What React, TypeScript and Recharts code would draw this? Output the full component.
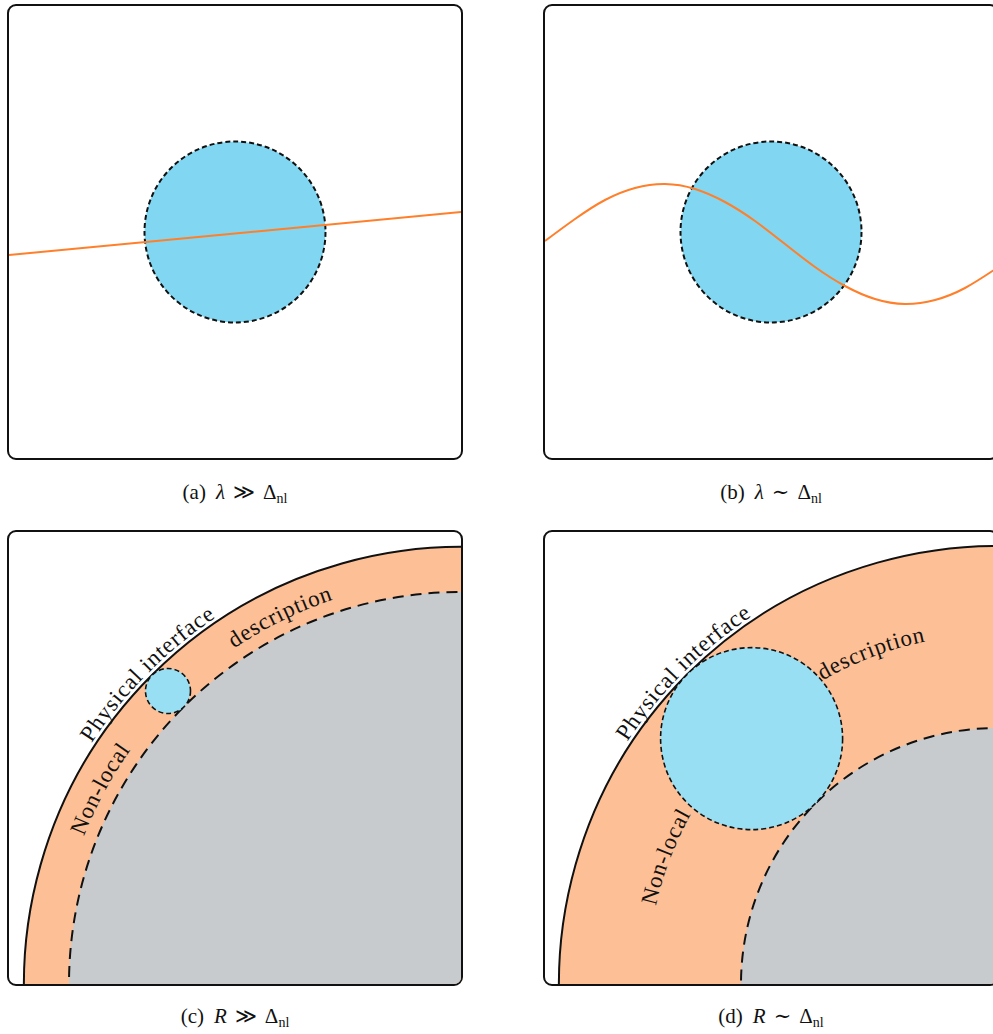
import React from 'react';
import {
  ComposedChart,
  Line,
  XAxis,
  YAxis,
  ReferenceDot,
  PieChart,
  Pie,
} from 'recharts';

// inner size of every panel, in panel units (1 unit = 1 px)
const SIZE = 452;

// (a) wavelength much longer than the non-local range: almost straight field line
const slowWaveX = [0, 452];
const slowWaveY = [249, 206];

// (b) wavelength comparable to the non-local range
const fastWaveX = [0, 30, 60, 90, 120, 150, 180, 210, 240, 270, 300, 330, 360, 390, 420, 452];
const fastWaveY = [235, 213, 194, 182, 178, 183, 196, 215, 238, 261, 280, 293, 298, 294, 282, 262];

// non-local probe region (circle): centre x, centre y, radius
const probeAB = [226, 226, 90.5];
const probeC = [159, 159, 22.5];
const probeD = [206.6, 206.6, 91];

// curved panels: radius of physical interface / of local bulk, for (c) and (d)
const interfaceR = [437, 438];
const bulkR = [392, 256];

// labels on the curved panels and the angle (deg) at which each is centred
const bandLabels = ['Physical interface', 'Non-local', 'description'];
const labelAnglesC = [135.3, 151.6, 116.2];
const labelAnglesD = [135.2, 159, 110.8];
const labelRadiiC = [441, 405, 405];
const labelRadiiD = [442, 350, 350];

const captionTags = ['(a)', '(b)', '(c)', '(d)'];
const captionSyms = ['λ', 'λ', 'R', 'R'];
const captionRels = ['≫', '∼', '≫', '∼'];

const INK = '#111';
const ORANGE = '#ff7f2a';
const BLUE_DARK = '#81d7f2';
const BLUE_LIGHT = '#99dff4';
const PEACH = '#fdbf95';
const GREY = '#c7cbce';
const SERIF = '"Liberation Serif", "DejaVu Serif", serif';

// the quarter sectors run past the frame so their straight edges stay hidden
const ARC_START = 80;
const ARC_END = 190;

const toRows = (xs: number[], ys: number[]) => xs.map((x, i) => ({ x, y: ys[i] }));

const Frame = ({ left, top, children }: { left: number; top: number; children: React.ReactNode }) => (
  <div
    style={{
      position: 'absolute',
      left,
      top,
      width: SIZE,
      height: SIZE,
      border: `2px solid ${INK}`,
      borderRadius: 9,
      overflow: 'hidden',
      background: '#fff',
    }}
  >
    {children}
  </div>
);

const Layer = ({ children }: { children: React.ReactNode }) => (
  <div style={{ position: 'absolute', left: 0, top: 0, width: SIZE, height: SIZE }}>{children}</div>
);

const Axes = () => (
  <>
    <XAxis type="number" dataKey="x" domain={[0, SIZE]} hide allowDataOverflow />
    <YAxis type="number" domain={[0, SIZE]} reversed hide allowDataOverflow />
  </>
);

const Probe = ({ probe, fill, dash, width }: { probe: number[]; fill: string; dash: string; width: number }) => (
  <ReferenceDot
    x={probe[0]}
    y={probe[1]}
    r={probe[2]}
    ifOverflow="visible"
    shape={(p: any) => (
      <circle
        cx={p.cx}
        cy={p.cy}
        r={probe[2]}
        fill={fill}
        stroke={INK}
        strokeWidth={width}
        strokeDasharray={dash}
      />
    )}
  />
);

const CurvedText = ({ id, r, angle, text }: { id: string; r: number; angle: number; text: string }) => {
  const span = 40;
  const a0 = ((angle + span) * Math.PI) / 180;
  const a1 = ((angle - span) * Math.PI) / 180;
  const x0 = SIZE + r * Math.cos(a0);
  const y0 = SIZE - r * Math.sin(a0);
  const x1 = SIZE + r * Math.cos(a1);
  const y1 = SIZE - r * Math.sin(a1);
  return (
    <g>
      <path id={id} d={`M ${x0} ${y0} A ${r} ${r} 0 0 1 ${x1} ${y1}`} fill="none" stroke="none" />
      <text fontFamily={SERIF} fontSize={23} letterSpacing={0.8} fill={INK}>
        <textPath href={`#${id}`} startOffset="50%" textAnchor="middle">
          {text}
        </textPath>
      </text>
    </g>
  );
};

const WavePanel = ({ xs, ys }: { xs: number[]; ys: number[] }) => (
  <>
    <Layer>
      <ComposedChart width={SIZE} height={SIZE} data={[]} margin={{ top: 0, right: 0, bottom: 0, left: 0 }}>
        <Axes />
        <Probe probe={probeAB} fill={BLUE_DARK} dash="5 3" width={2} />
      </ComposedChart>
    </Layer>
    <Layer>
      <ComposedChart width={SIZE} height={SIZE} data={toRows(xs, ys)} margin={{ top: 0, right: 0, bottom: 0, left: 0 }}>
        <Axes />
        <Line
          dataKey="y"
          type="natural"
          stroke={ORANGE}
          strokeWidth={2}
          dot={false}
          activeDot={false}
          isAnimationActive={false}
        />
      </ComposedChart>
    </Layer>
  </>
);

const CurvedPanel = ({
  k,
  probe,
  angles,
  radii,
}: {
  k: number;
  probe: number[];
  angles: number[];
  radii: number[];
}) => (
  <>
    <Layer>
      <PieChart width={SIZE} height={SIZE} margin={{ top: 0, right: 0, bottom: 0, left: 0 }}>
        <Pie
          data={[{ name: 'non-local', value: 1 }]}
          dataKey="value"
          cx="100%"
          cy="100%"
          startAngle={ARC_START}
          endAngle={ARC_END}
          innerRadius={0}
          outerRadius={interfaceR[k]}
          fill={PEACH}
          stroke={INK}
          strokeWidth={2}
          isAnimationActive={false}
        />
        <Pie
          data={[{ name: 'bulk', value: 1 }]}
          dataKey="value"
          cx="100%"
          cy="100%"
          startAngle={ARC_START}
          endAngle={ARC_END}
          innerRadius={0}
          outerRadius={bulkR[k]}
          fill={GREY}
          stroke={INK}
          strokeWidth={2}
          strokeDasharray="11 7"
          isAnimationActive={false}
        />
      </PieChart>
    </Layer>
    <Layer>
      <ComposedChart width={SIZE} height={SIZE} data={[]} margin={{ top: 0, right: 0, bottom: 0, left: 0 }}>
        <Axes />
        <Probe probe={probe} fill={BLUE_LIGHT} dash="5 3" width={1.6} />
        {bandLabels.map((t, i) => (
          <CurvedText key={t} id={`arc-${k}-${i}`} r={radii[i]} angle={angles[i]} text={t} />
        ))}
      </ComposedChart>
    </Layer>
  </>
);

const Caption = ({ i, left, top }: { i: number; left: number; top: number }) => (
  <div
    style={{
      position: 'absolute',
      left,
      top,
      width: SIZE + 4,
      textAlign: 'center',
      fontFamily: SERIF,
      fontSize: 21,
      lineHeight: '24px',
      color: INK,
      whiteSpace: 'nowrap',
    }}
  >
    <span>{captionTags[i]}</span>
    <i style={{ marginLeft: 10 }}>{captionSyms[i]}</i>
    <span style={{ marginLeft: 8 }}>{captionRels[i]}</span>
    <span style={{ marginLeft: 8 }}>Δ</span>
    <span style={{ fontSize: 14, position: 'relative', top: 4 }}>nl</span>
  </div>
);

export default function App() {
  return (
    <div style={{ position: 'absolute', left: 0, top: 0, width: 993, height: 1034, overflow: 'hidden', background: '#fff' }}>
      <Frame left={7} top={4}>
        <WavePanel xs={slowWaveX} ys={slowWaveY} />
      </Frame>
      <Frame left={543} top={4}>
        <WavePanel xs={fastWaveX} ys={fastWaveY} />
      </Frame>
      <Frame left={7} top={530}>
        <CurvedPanel k={0} probe={probeC} angles={labelAnglesC} radii={labelRadiiC} />
      </Frame>
      <Frame left={543} top={530}>
        <CurvedPanel k={1} probe={probeD} angles={labelAnglesD} radii={labelRadiiD} />
      </Frame>
      <Caption i={0} left={7} top={480} />
      <Caption i={1} left={543} top={480} />
      <Caption i={2} left={7} top={1004} />
      <Caption i={3} left={543} top={1004} />
    </div>
  );
}
